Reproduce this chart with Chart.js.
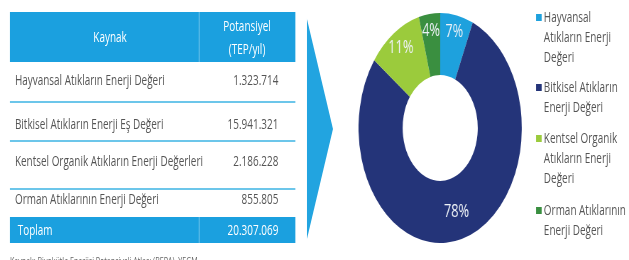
<!DOCTYPE html>
<html>
<head>
<meta charset="utf-8">
<script src="https://cdn.jsdelivr.net/npm/chart.js@4"></script>
<style>
  html, body { margin: 0; padding: 0; background: #fff; overflow: hidden; }
  body { width: 629px; height: 260px; position: relative; font-family: "Open Sans", sans-serif; }
  /* the whole picture is horizontally squeezed, so we draw wide and compress */
  #stage { position: absolute; left: 0; top: 0; width: 886px; height: 260px; transform: scaleX(0.71); transform-origin: 0 0; }
  .abs { position: absolute; }
  .hdr { background: #1ba0df; color: #fff; }
  .cell { height: 20px; line-height: 20px; font-size: 14px; color: #555; white-space: nowrap; }
  .sep { height: 2px; background: #6cc6ea; left: 14px; width: 402px; }
  #arrow { left: 432px; top: 18px; width: 37px; height: 222px; background: #22a4e0; clip-path: polygon(0 0, 100% 50%, 0 100%); }
  .leg { font-size: 14px; color: #555; line-height: 20px; white-space: nowrap; }
  .leg i { position: absolute; left: -11px; top: 7px; width: 8px; height: 7px; }
</style>
</head>
<body>
<div id="stage">
  <div id="table"></div>
  <div id="arrow" class="abs"></div>
  <div class="abs" style="left:505px; top:13px; width:230px; height:230px;">
    <canvas id="donut" width="230" height="230"></canvas>
  </div>
  <div id="legend"></div>
</div>

<script>
// Données
const kaynakLabels = [
  'Hayvansal Atıkların Enerji Değeri',
  'Bitkisel Atıkların Enerji Eş Değeri',
  'Kentsel Organik Atıkların Enerji Değerleri',
  'Orman Atıklarının Enerji Değeri'
];
const potansiyel = [1323714, 15941321, 2186228, 855805];
const toplam = 20307069;
const yuzdeLabels = ['7%', '78%', '11%', '4%'];
const legendLines = [
  ['Hayvansal', 'Atıkların Enerji', 'Değeri'],
  ['Bitkisel Atıkların', 'Enerji Değeri'],
  ['Kentsel Organik', 'Atıkların Enerji', 'Değeri'],
  ['Orman Atıklarının', 'Enerji Değeri']
];
const renkler = ['#1ea1dd', '#243479', '#9bcb3c', '#3a8f40'];

// Format turc : 1.323.714
function fmt(n) {
    return n.toString().replace(/\B(?=(\d{3})+(?!\d))/g, '.');
}

// Construction du tableau
function buildTable() {
    const t = document.getElementById('table');
    let html = '';
    html += '<div class="abs hdr" style="left:14px; top:12px; width:402px; height:50px;"></div>';
    html += '<div class="abs" style="left:280px; top:12px; width:1px; height:50px; background:rgba(255,255,255,0.45);"></div>';
    html += '<div class="abs" style="left:30px; top:27px; width:250px; text-align:center; color:#fff; font-size:14px; line-height:20px;">Kaynak</div>';
    html += '<div class="abs" style="left:280px; top:14px; width:136px; text-align:center; color:#fff; font-size:14px; line-height:23px;">Potansiyel<br>(TEP/yıl)</div>';

    const rowY = [80, 124, 161, 199];
    const sepY = [101, 140, 188];
    kaynakLabels.forEach((lab, i) => {
        html += `<div class="abs cell" style="left:21px; top:${rowY[i] - 10}px;">${lab}</div>`;
        html += `<div class="abs cell" style="left:280px; width:112px; text-align:right; top:${rowY[i] - 10}px;">${fmt(potansiyel[i])}</div>`;
    });
    sepY.forEach(y => { html += `<div class="abs sep" style="top:${y}px;"></div>`; });

    html += '<div class="abs hdr" style="left:14px; top:217px; width:402px; height:26px;"></div>';
    html += '<div class="abs" style="left:280px; top:217px; width:1px; height:26px; background:rgba(255,255,255,0.45);"></div>';
    html += '<div class="abs cell" style="left:25px; top:220px; color:#fff;">Toplam</div>';
    html += `<div class="abs cell" style="left:280px; width:112px; text-align:right; top:220px; color:#fff;">${fmt(toplam)}</div>`;
    html += '<div class="abs" style="left:14px; top:254px; font-size:10px; color:#666; white-space:nowrap;">Kaynak: Biyokütle Enerjisi Potansiyeli Atlası (BEPA), YEGM</div>';
    t.innerHTML = html;
}

// Légende HTML
function buildLegend() {
    const leg = document.getElementById('legend');
    const tops = [7, 77, 128, 200];
    let html = '';
    legendLines.forEach((lines, i) => {
        html += `<div class="abs leg" style="left:766px; top:${tops[i]}px;"><i style="background:${renkler[i]}"></i>${lines.join('<br>')}</div>`;
    });
    leg.innerHTML = html;
}

// Plugin pour écrire les pourcentages sur les tranches
const yuzdePlugin = {
    id: 'yuzde',
    afterDatasetsDraw(chart) {
        const ctx = chart.ctx;
        const meta = chart.getDatasetMeta(0);
        ctx.save();
        ctx.font = '18px "Open Sans", sans-serif';
        ctx.fillStyle = '#eef2f7';
        ctx.textAlign = 'center';
        ctx.textBaseline = 'middle';
        meta.data.forEach((arc, i) => {
            const p = arc.getProps(['x', 'y', 'startAngle', 'endAngle', 'outerRadius'], true);
            const mid = (p.startAngle + p.endAngle) / 2;
            const frac = (p.endAngle - p.startAngle) / (2 * Math.PI);
            const r = p.outerRadius * (frac < 0.2 ? 0.85 : 0.76);
            ctx.fillText(yuzdeLabels[i], p.x + Math.cos(mid) * r, p.y + Math.sin(mid) * r);
        });
        ctx.restore();
    }
};

function showChart() {
    const ctx = document.getElementById('donut').getContext('2d');
    new Chart(ctx, {
        type: 'doughnut',
        data: {
            labels: kaynakLabels,
            datasets: [{
                data: potansiyel,
                backgroundColor: renkler,
                borderWidth: 0
            }]
        },
        options: {
            responsive: false,
            animation: false,
            cutout: '46%',
            plugins: {
                legend: { display: false },
                tooltip: { enabled: false }
            }
        },
        plugins: [yuzdePlugin]
    });
}

document.addEventListener('DOMContentLoaded', () => {
    buildTable();
    buildLegend();
    showChart();
});
</script>
</body>
</html>
